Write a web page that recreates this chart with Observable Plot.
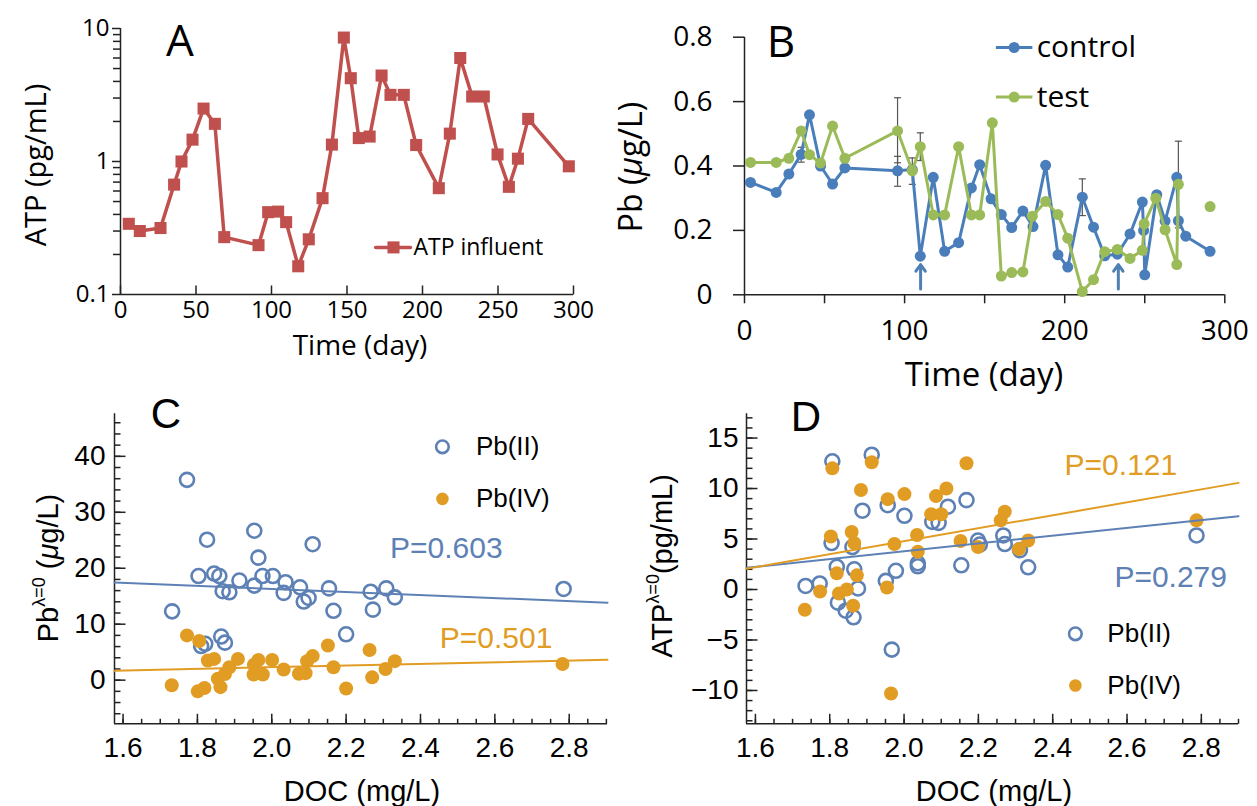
<!DOCTYPE html>
<html><head><meta charset="utf-8">
<script src="https://cdn.jsdelivr.net/npm/d3@7"></script>
<script src="https://cdn.jsdelivr.net/npm/@observablehq/plot@0.6"></script>
<style>
body{margin:0;background:#fff;}
#wrap{position:relative;width:1257px;height:806px;overflow:hidden;background:#fff;}
#wrap svg{position:absolute;overflow:visible;}
</style></head><body><div id="wrap"></div>
<script>
// ---------- Panel A data ----------
const atpDay = [5.5,12.8,26.5,35.5,40.4,47.7,55,62.5,68.7,91.4,97.8,104.4,109.7,117.7,124.7,133.8,140,147.9,152.5,157.8,165,172.9,178.8,187.6,195.8,210.8,218.1,225,232.9,240.6,249.7,257.2,263.2,270,296.9];
const atpVal = [0.34,0.30,0.316,0.67,1.0,1.46,2.5,1.92,0.27,0.235,0.416,0.42,0.35,0.163,0.26,0.53,1.34,8.55,4.23,1.50,1.54,4.43,3.17,3.17,1.33,0.63,1.62,6.0,3.08,3.08,1.13,0.645,1.05,2.09,0.92];
const aXTicks = [0,50,100,150,200,250,300];
const aYMajor = [0.1,1,10];

// ---------- Panel B data ----------
const ctrlDay = [3.75,19.8,27.7,35.4,40.6,47.5,55,62.7,95.6,104.8,109.8,117.9,125,133.75,141.7,146.9,154,160.4,166.9,173.9,180.2,188.1,195.8,201.9,211,218,225,232.9,240.8,248.5,249.3,250,257.5,262.7,270,271,275.6,290.8];
const ctrlVal = [0.349,0.318,0.375,0.436,0.559,0.40,0.344,0.394,0.385,0.389,0.12,0.365,0.135,0.162,0.332,0.404,0.298,0.249,0.209,0.26,0.212,0.402,0.124,0.086,0.303,0.21,0.121,0.126,0.189,0.288,0.20,0.062,0.311,0.229,0.365,0.23,0.182,0.135];
const testDay = [3.75,19.8,27.7,35.4,40.6,47.5,55,62.7,95.6,104.8,109.8,117.9,125,133.75,141.7,146.9,154.8,160.4,166.9,173.9,179.8,188.1,195.8,201.9,211,218,225,232.9,240.8,248.5,249.6,256.9,262.7,270,271];
const testVal = [0.411,0.411,0.424,0.509,0.435,0.409,0.524,0.424,0.509,0.385,0.46,0.248,0.248,0.46,0.248,0.248,0.534,0.058,0.069,0.071,0.244,0.29,0.249,0.176,0.010,0.047,0.134,0.141,0.113,0.138,0.22,0.30,0.202,0.094,0.343];
const testExtraDay = [290.8];
const testExtraVal = [0.274];
const errDay = [35.4,95.6,95.6,104.8,109.8,211,271,290.8];
const errLo  = [0.412,0.41,0.337,0.343,0.417,0.246,0.208,0.262];
const errHi  = [0.458,0.612,0.43,0.425,0.503,0.36,0.477,0.283];
const arrowDay = [110,233.5];
const arrowFrom = [0.018,0.018];
const arrowTo = [0.094,0.094];
const bXMajor = [0,100,200,300];
const bXMinor = [50,150,250];
const bYTicks = [0,0.2,0.4,0.6,0.8];
const seriesB = ["control","test"];

// ---------- Panel C data ----------
const cDocII = [1.772,1.826,1.953,1.964,2.110,1.803,1.845,1.859,1.868,1.886,1.913,1.953,1.975,2.003,2.037,2.032,2.076,2.086,2.099,2.154,2.166,2.200,1.732,1.810,1.821,1.864,1.874,2.266,2.308,2.331,2.272,2.785];
const cPbII  = [35.8,25.1,26.7,21.9,24.3,18.6,19.05,18.6,15.9,15.7,17.8,16.9,18.6,18.6,17.5,15.6,16.6,14.05,14.7,16.4,12.4,8.2,12.3,6.1,6.5,7.8,6.7,15.8,16.4,14.8,12.6,16.3];
const cDocIV = [1.772,1.805,1.731,1.801,1.819,1.828,1.845,1.855,1.862,1.874,1.886,1.909,1.952,1.964,1.951,1.976,2.001,2.032,2.073,2.091,2.095,2.110,2.151,2.166,2.200,2.263,2.270,2.306,2.331,2.782];
const cPbIV  = [8.0,7.0,-0.9,-2.0,-1.4,3.5,3.8,0.25,-1.25,1.1,2.3,3.8,2.75,3.6,1.0,1.0,3.6,1.9,1.15,1.25,3.4,4.3,6.2,2.3,-1.5,5.4,0.5,2.0,3.4,2.9];
const cFitX = [1.577,2.903];
const cFitII = [17.46,13.85];
const cFitIV = [1.70,3.64];
const cYMajor = [0,10,20,30,40];
const docTicks = [1.6,1.8,2.0,2.2,2.4,2.6,2.8];
const seriesCD = ["Pb(II)","Pb(IV)"];
const pC = ["P=0.603","P=0.501"];

// ---------- Panel D data ----------
const dDocII = [1.807,1.913,1.888,1.956,2.001,2.076,2.093,2.118,2.168,1.805,1.861,1.819,1.866,1.735,1.773,1.876,1.822,1.843,1.864,1.951,1.978,2.037,2.037,2.154,1.967,2.199,2.204,2.267,2.271,2.312,2.334,2.787];
const dAtpII = [12.7,13.35,7.8,8.35,7.3,6.7,6.6,8.2,8.85,4.6,4.2,2.25,2.0,0.35,0.6,0.1,-1.3,-2.1,-2.75,0.85,1.85,2.6,2.3,2.4,-5.95,4.85,4.45,5.35,4.5,3.9,2.2,5.35];
const dDocIV = [1.807,1.913,2.168,1.884,1.956,2.001,2.086,2.114,2.073,2.1,1.803,1.859,1.866,1.974,2.035,2.037,2.152,1.819,1.873,1.774,1.825,1.846,1.863,1.733,1.954,1.965,2.199,2.271,2.26,2.309,2.334,2.787];
const dAtpIV = [12.0,12.6,12.5,9.85,8.95,9.45,9.25,10.0,7.45,7.45,5.25,5.7,4.6,4.5,5.4,3.75,4.8,1.6,1.4,-0.2,-0.4,0.0,-1.6,-2.0,0.2,-10.3,4.2,7.7,6.85,4.0,4.85,6.85];
const dFitX = [1.576,2.9];
const dFitII = [2.15,7.26];
const dFitIV = [2.06,10.56];
const dYMajor = [-10,-5,0,5,10,15];
const pD = ["P=0.121","P=0.279"];

// ---------- styling ----------
const red = "#c0504d", bBlue = "#4a7ebb", bGreen = "#9bbb59";
const mBlue = "#5e81b5", mOrange = "#e19c24", arrowCol = "#4f7fb3";
const axisCol = "#222";
const fontAB = "'Open Sans', sans-serif";
const fontCD = "'Liberation Sans', Arial, sans-serif";
const seg = (dx, dy) => ({draw(ctx){ ctx.moveTo(0,0); ctx.lineTo(dx,dy); }});
const cap = {draw(ctx){ ctx.moveTo(-3.5,0); ctx.lineTo(3.5,0); }};
const zip = (xs, ys) => xs.map((x,i) => ({x, y: ys[i]}));
const minus = d => d < 0 ? "\u2212" + Math.abs(d) : String(d);

const wrap = document.getElementById("wrap");
function place(svg, left, top){ svg.style.left = left + "px"; svg.style.top = top + "px"; wrap.appendChild(svg); }
function label(html, cx, cy, font, size, rotate){
  const d = document.createElement("div");
  d.innerHTML = html;
  d.style.cssText = `position:absolute;left:${cx}px;top:${cy}px;transform:translate(-50%,-50%)${rotate ? " rotate(-90deg)" : ""};font-family:${font};font-size:${size}px;white-space:nowrap;line-height:1;color:#000;`;
  wrap.appendChild(d);
}

// ---------- Panel A ----------
const rowsA = zip(atpDay, atpVal);
const aYMinor = d3.range(2,10).map(d => d/10).concat(d3.range(2,10));
const plotA = Plot.plot({
  width: 620, height: 380, marginLeft: 120, marginRight: 47, marginTop: 28, marginBottom: 86,
  x: {domain: [0,300], axis: null},
  y: {type: "log", domain: [0.1,10], axis: null},
  style: {fontFamily: fontAB, fontSize: "24px", color: "#000", background: "transparent", overflow: "visible"},
  marks: [
    Plot.ruleX([0], {stroke: axisCol, strokeWidth: 1.5}),
    Plot.ruleY([0.1], {stroke: axisCol, strokeWidth: 1.5}),
    Plot.axisY({ticks: aYMajor, label: null, tickSize: 8, tickPadding: 3, tickFormat: d => String(d), stroke: axisCol, strokeWidth: 1.5}),
    Plot.axisY({ticks: aYMinor, label: null, tickSize: 7, tickFormat: () => "", stroke: axisCol, strokeWidth: 1.5}),
    Plot.dot(aXTicks, {x: d => d, y: 0.1, symbol: seg(0,-9), stroke: axisCol, fill: "none", strokeWidth: 1.5}),
    Plot.axisX({ticks: aXTicks, label: null, tickSize: 0, tickPadding: 6, tickFormat: d => String(d)}),
    Plot.line(rowsA, {x: "x", y: "y", stroke: red, strokeWidth: 3.5}),
    Plot.dot(rowsA, {x: "x", y: "y", symbol: "square", r: 6.8, fill: red}),
    // legend
    Plot.line([{x:169,y:0.226},{x:192,y:0.226}], {x: "x", y: "y", stroke: red, strokeWidth: 3.5}),
    Plot.dot([{x:180.8,y:0.226}], {x: "x", y: "y", symbol: "square", r: 6.8, fill: red}),
    Plot.text(["ATP influent"], {x: 194, y: 0.226, text: d => d, textAnchor: "start", fontSize: 23, fill: "#000"})
  ]
});
place(plotA, 0, 0);

// ---------- Panel B ----------
const rowsCtrl = zip(ctrlDay, ctrlVal);
const rowsTest = zip(testDay, testVal);
const rowsExtra = zip(testExtraDay, testExtraVal);
const rowsErr = errDay.map((d,i) => ({x: d, lo: errLo[i], hi: errHi[i]}));
const rowsArrow = arrowDay.map((d,i) => ({x: d, y1: arrowFrom[i], y2: arrowTo[i]}));
const legB = [{s: seriesB[0], y: 0.768, c: bBlue}, {s: seriesB[1], y: 0.614, c: bGreen}];
const plotB = Plot.plot({
  width: 637, height: 400, marginLeft: 124, marginRight: 32.7, marginTop: 36.7, marginBottom: 105.7,
  x: {domain: [0,300], axis: null},
  y: {domain: [0,0.8], axis: null},
  style: {fontFamily: fontAB, fontSize: "28px", color: "#000", background: "transparent", overflow: "visible"},
  marks: [
    Plot.ruleX([0], {stroke: axisCol, strokeWidth: 1.5}),
    Plot.ruleY([0], {stroke: axisCol, strokeWidth: 1.5}),
    Plot.axisY({ticks: bYTicks, label: null, tickSize: 11, tickPadding: 21, tickFormat: d => d === 0 ? "0" : d.toFixed(1), stroke: axisCol, strokeWidth: 1.5}),
    Plot.axisX({ticks: bXMajor, label: null, tickSize: 9, tickPadding: 16, tickFormat: d => String(d), stroke: axisCol, strokeWidth: 1.5}),
    Plot.axisX({ticks: bXMinor, label: null, tickSize: 9, tickFormat: () => "", stroke: axisCol, strokeWidth: 1.5}),
    Plot.ruleX(rowsErr, {x: "x", y1: "lo", y2: "hi", stroke: "#555", strokeWidth: 1.2}),
    Plot.dot(rowsErr, {x: "x", y: "lo", symbol: cap, stroke: "#555", fill: "none", strokeWidth: 1.2}),
    Plot.dot(rowsErr, {x: "x", y: "hi", symbol: cap, stroke: "#555", fill: "none", strokeWidth: 1.2}),
    Plot.line(rowsCtrl, {x: "x", y: "y", stroke: bBlue, strokeWidth: 3}),
    Plot.dot(rowsCtrl, {x: "x", y: "y", r: 5.5, fill: bBlue}),
    Plot.line(rowsTest, {x: "x", y: "y", stroke: bGreen, strokeWidth: 3}),
    Plot.dot(rowsTest, {x: "x", y: "y", r: 5.5, fill: bGreen}),
    Plot.dot(rowsExtra, {x: "x", y: "y", r: 5.5, fill: bGreen}),
    Plot.arrow(rowsArrow, {x1: "x", y1: "y1", x2: "x", y2: "y2", stroke: arrowCol, strokeWidth: 3, headLength: 11, headAngle: 70}),
    // legend
    Plot.link(legB, {x1: 157, x2: 179.8, y1: "y", y2: "y", stroke: "c", strokeWidth: 3}),
    Plot.dot(legB, {x: 168.4, y: "y", r: 5.5, fill: "c"}),
    Plot.text(legB, {x: 182.5, y: "y", text: "s", textAnchor: "start", fontSize: 30, fill: "#000"})
  ]
});
place(plotB, 620, 0);

// ---------- Panel C ----------
const cYMinor = d3.range(-6, 47, 2);
const docMinor = d3.range(1.6, 2.91, 0.05);
const rowsCII = zip(cDocII, cPbII), rowsCIV = zip(cDocIV, cPbIV);
const plotC = Plot.plot({
  width: 620, height: 426, marginLeft: 114, marginRight: 13, marginTop: 33.3, marginBottom: 82.7,
  x: {domain: [1.577, 2.903], axis: null},
  y: {domain: [-7.8, 47.6], axis: null},
  style: {fontFamily: fontCD, fontSize: "28px", color: "#000", background: "transparent", overflow: "visible"},
  marks: [
    Plot.ruleX([1.577], {stroke: axisCol, strokeWidth: 1.5}),
    Plot.ruleY([-7.8], {stroke: axisCol, strokeWidth: 1.5}),
    Plot.dot(cYMinor, {x: 1.577, y: d => d, symbol: seg(6,0), stroke: axisCol, fill: "none", strokeWidth: 1.5}),
    Plot.dot(cYMajor, {x: 1.577, y: d => d, symbol: seg(11,0), stroke: axisCol, fill: "none", strokeWidth: 1.5}),
    Plot.dot(docMinor, {x: d => d, y: -7.8, symbol: seg(0,-5), stroke: axisCol, fill: "none", strokeWidth: 1.5}),
    Plot.dot(docTicks, {x: d => d, y: -7.8, symbol: seg(0,-10), stroke: axisCol, fill: "none", strokeWidth: 1.5}),
    Plot.axisY({ticks: cYMajor, label: null, tickSize: 0, tickPadding: 9, tickFormat: d => String(d)}),
    Plot.axisX({ticks: docTicks, label: null, tickSize: 0, tickPadding: 13, tickFormat: d => d.toFixed(1)}),
    Plot.dot(rowsCII, {x: "x", y: "y", r: 7, stroke: mBlue, strokeWidth: 2.6, fill: "none"}),
    Plot.dot(rowsCIV, {x: "x", y: "y", r: 7, fill: mOrange}),
    Plot.line(zip(cFitX, cFitII), {x: "x", y: "y", stroke: mBlue, strokeWidth: 2}),
    Plot.line(zip(cFitX, cFitIV), {x: "x", y: "y", stroke: mOrange, strokeWidth: 2}),
    // legend
    Plot.dot([seriesCD[0]], {x: 2.459, y: 41.7, r: 6.3, stroke: mBlue, strokeWidth: 2.6, fill: "none"}),
    Plot.dot([seriesCD[1]], {x: 2.459, y: 32.4, r: 6.3, fill: mOrange}),
    Plot.text([seriesCD[0]], {x: 2.549, y: 41.7, text: d => d, textAnchor: "start", fontSize: 26, fill: "#000"}),
    Plot.text([seriesCD[1]], {x: 2.549, y: 32.4, text: d => d, textAnchor: "start", fontSize: 26, fill: "#000"}),
    Plot.text([pC[0]], {x: 2.318, y: 23.5, text: d => d, textAnchor: "start", fontSize: 30, fill: mBlue}),
    Plot.text([pC[1]], {x: 2.452, y: 7.4, text: d => d, textAnchor: "start", fontSize: 30, fill: mOrange})
  ]
});
place(plotC, 0, 380);

// ---------- Panel D ----------
const dYMinor = d3.range(-13, 18, 1);
const rowsDII = zip(dDocII, dAtpII), rowsDIV = zip(dDocIV, dAtpIV);
const plotD = Plot.plot({
  width: 637, height: 426, marginLeft: 126, marginRight: 19, marginTop: 33.3, marginBottom: 82.7,
  x: {domain: [1.576, 2.9], axis: null},
  y: {domain: [-13.3, 17.4], axis: null},
  style: {fontFamily: fontCD, fontSize: "28px", color: "#000", background: "transparent", overflow: "visible"},
  marks: [
    Plot.ruleX([1.576], {stroke: axisCol, strokeWidth: 1.5}),
    Plot.ruleY([-13.3], {stroke: axisCol, strokeWidth: 1.5}),
    Plot.dot(dYMinor, {x: 1.576, y: d => d, symbol: seg(6,0), stroke: axisCol, fill: "none", strokeWidth: 1.5}),
    Plot.dot(dYMajor, {x: 1.576, y: d => d, symbol: seg(11,0), stroke: axisCol, fill: "none", strokeWidth: 1.5}),
    Plot.dot(docMinor, {x: d => d, y: -13.3, symbol: seg(0,-5), stroke: axisCol, fill: "none", strokeWidth: 1.5}),
    Plot.dot(docTicks, {x: d => d, y: -13.3, symbol: seg(0,-10), stroke: axisCol, fill: "none", strokeWidth: 1.5}),
    Plot.axisY({ticks: dYMajor, label: null, tickSize: 0, tickPadding: 8, tickFormat: minus}),
    Plot.axisX({ticks: docTicks, label: null, tickSize: 0, tickPadding: 13, tickFormat: d => d.toFixed(1)}),
    Plot.dot(rowsDII, {x: "x", y: "y", r: 7, stroke: mBlue, strokeWidth: 2.6, fill: "none"}),
    Plot.dot(rowsDIV, {x: "x", y: "y", r: 7, fill: mOrange}),
    Plot.line(zip(dFitX, dFitII), {x: "x", y: "y", stroke: mBlue, strokeWidth: 2}),
    Plot.line(zip(dFitX, dFitIV), {x: "x", y: "y", stroke: mOrange, strokeWidth: 2}),
    // legend
    Plot.dot([seriesCD[0]], {x: 2.461, y: -4.39, r: 6.3, stroke: mBlue, strokeWidth: 2.6, fill: "none"}),
    Plot.dot([seriesCD[1]], {x: 2.461, y: -9.5, r: 6.3, fill: mOrange}),
    Plot.text([seriesCD[0]], {x: 2.547, y: -4.39, text: d => d, textAnchor: "start", fontSize: 26, fill: "#000"}),
    Plot.text([seriesCD[1]], {x: 2.547, y: -9.5, text: d => d, textAnchor: "start", fontSize: 26, fill: "#000"}),
    Plot.text([pD[0]], {x: 2.432, y: 12.3, text: d => d, textAnchor: "start", fontSize: 30, fill: mOrange}),
    Plot.text([pD[1]], {x: 2.566, y: 1.2, text: d => d, textAnchor: "start", fontSize: 30, fill: mBlue})
  ]
});
place(plotD, 620, 380);

// ---------- titles and panel letters ----------
const sup = s => `<span style="font-size:0.62em;position:relative;top:-0.72em">${s}</span>`;
label("A", 180, 39, fontAB, 44, false);
label("B", 781, 40, fontAB, 44, false);
label("C", 166, 414, fontCD, 42, false);
label("D", 806, 417, fontCD, 42, false);
label("ATP (pg/mL)", 34, 165, fontAB, 29, true);
label("Time (day)", 360, 344, fontAB, 28, false);
label("Pb (<i>\u03bc</i>g/L)", 630, 167, fontAB, 32, true);
label("Time (day)", 984, 373, fontAB, 33, false);
label(`Pb${sup("\u03bb=0")} (<i>\u03bc</i>g/L)`, 48, 568, fontCD, 29, true);
label("DOC (mg/L)", 362, 791, fontCD, 29, false);
label(`ATP${sup("\u03bb=0")}(pg/mL)`, 662, 566, fontCD, 29, true);
label("DOC (mg/L)", 994, 791, fontCD, 29, false);
</script>
</body></html>
